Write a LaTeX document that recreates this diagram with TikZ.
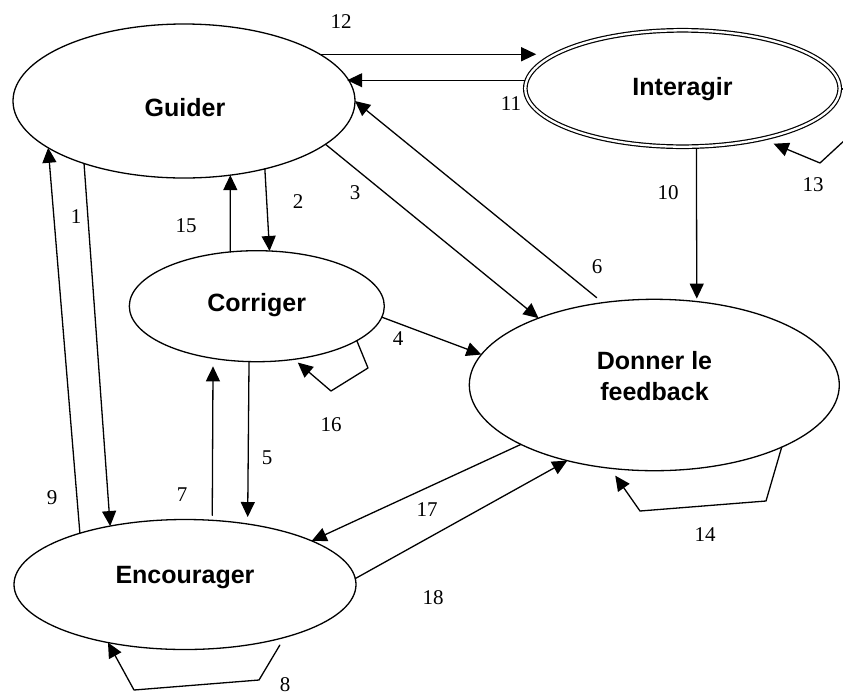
\documentclass[tikz,border=0pt]{standalone}
\usepackage{fontspec}
\setmainfont{Liberation Serif}
\newfontfamily\etiquette{Liberation Sans}
\usepackage{tikz}
\usetikzlibrary{calc}
\usetikzlibrary{arrows.meta}
\usetikzlibrary{shapes.geometric}
\tikzstyle{every node}=[inner sep=0pt]
\tikzstyle{etat}=[ellipse,draw,line width=1.3pt,inner sep=0pt,outer sep=0pt]
\tikzstyle{nom}=[anchor=base,align=center,font=\etiquette\bfseries\fontsize{25}{31.4}\selectfont]
\tikzstyle{num}=[font=\fontsize{21}{25}\selectfont]

\begin{document}
\begin{tikzpicture}[line cap=round,line join=round,>={Triangle[length=15pt,width=14pt]},x=1pt,y=-1pt,line width=1.3pt]
        \useasboundingbox (0,0) rectangle (843,697);
        \clip(0,0) rectangle (843,697);
        \node[etat,minimum width=342pt,minimum height=154pt] (guider) at (184,101) {};
        \node[etat,double,line width=1.2pt,double distance=2.3pt,outer sep=2.35pt,minimum width=314.4pt,minimum height=116.4pt] (interagir) at (682.5,88.5) {};
        \node[etat,minimum width=255pt,minimum height=111pt] (corriger) at (256.8,306.2) {};
        \node[etat,minimum width=370pt,minimum height=171.4pt] (feedback) at (654.3,385) {};
        \node[etat,minimum width=342pt,minimum height=130pt] (encourager) at (185,584.5) {};
        \node[nom] (tguider) at (185,116.7) {Guider};
        \node[nom] (tinteragir) at (682.5,95) {Interagir};
        \node[nom] (tcorriger) at (256.7,311.7) {Corriger};
        \node[nom] (tfeedback) at (654.5,400.7) {Donner le\\feedback};
        \node[nom] (tencourager) at (185,583.3) {Encourager};
        \draw [->] (guider.-148) -- (encourager.142);
        \draw [->] (guider.-40) -- (corriger.77);
        \draw [->] (guider.-17) -- (feedback.150);
        \draw [->] (corriger.-5) -- (feedback.170);
        \draw [->,shorten >=7pt] (corriger.-98) -- (encourager.44);
        \draw [->,shorten <=8pt] (feedback.122) -- (guider.0);
        \draw [->,shorten <=5pt,shorten >=8pt] (encourager.67) -- (corriger.-130);
        \draw [->,shorten <=9pt] (encourager.-28) -- (259,680) -- (134,690) -- (encourager.-143);
        \draw [->] (encourager.154) -- (guider.-161);
        \draw [->,shorten >=3pt] (interagir.-77) -- (feedback.63);
        \draw [->] (interagir.177) -- (interagir.177 -| guider.8);
        \draw [->,shorten >=10pt] (guider.19) -- (guider.19 -| interagir.167);
        \draw [->,shorten >=9pt] (interagir.east) -- (872,115) -- (820,163) -- (interagir.-32);
        \draw [->,shorten >=9pt] (feedback.-26) -- (766,501) -- (640,511) -- (feedback.-118);
        \draw [->] (corriger.116) -- (guider.-58);
        \draw [->,shorten >=5pt] (corriger.-19) -- (368,368) -- (331,391) -- (corriger.-55);
        \draw [->] (feedback.-156) -- (encourager.19);
        \draw [->] (encourager.2) -- (feedback.-139);
        \node[num] (n1) at (76,217) {1};
        \node[num] (n2) at (298,202) {2};
        \node[num] (n3) at (355,193) {3};
        \node[num] (n4) at (398,339) {4};
        \node[num] (n5) at (267,458) {5};
        \node[num] (n6) at (597,267) {6};
        \node[num] (n7) at (182,495) {7};
        \node[num] (n8) at (285,685) {8};
        \node[num] (n9) at (52,498) {9};
        \node[num] (n10) at (668,193) {10};
        \node[num] (n11) at (511,104) {11};
        \node[num] (n12) at (341,22) {12};
        \node[num] (n13) at (813,185) {13};
        \node[num] (n14) at (705,535) {14};
        \node[num] (n15) at (186,226) {15};
        \node[num] (n16) at (331,425) {16};
        \node[num] (n17) at (427,510) {17};
        \node[num] (n18) at (433,598) {18};
\end{tikzpicture}
\end{document}
